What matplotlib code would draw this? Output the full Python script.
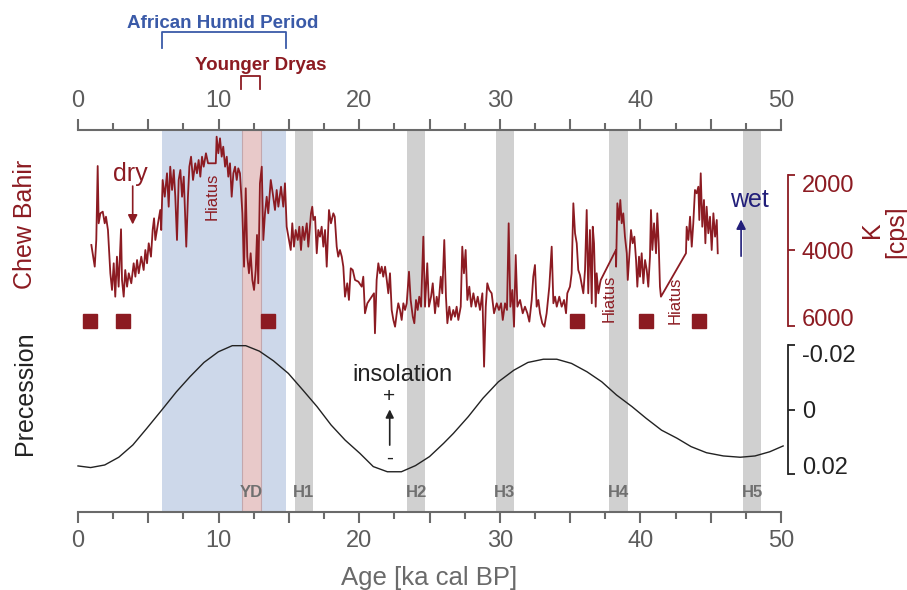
import matplotlib
matplotlib.use("Agg")
import matplotlib.pyplot as plt
import numpy as np

plt.rcParams['font.family'] = ['Liberation Sans', 'DejaVu Sans']

RED = '#8c1b22'
NAVY = '#221f7a'
BLUE_TXT = '#3a5aa8'
GREY = '#6a6a6a'

# Chew Bahir K record (age ka cal BP, K cps)
age_a = [0.95, 1.12, 1.19, 1.30, 1.40, 1.47, 1.59, 1.76, 1.90, 1.99, 2.13, 2.30, 2.42, 2.54, 2.65,
         2.77, 2.89, 3.06, 3.13, 3.25, 3.36, 3.49, 3.61, 3.79, 3.96, 4.08, 4.20, 4.32, 4.50, 4.67,
         4.79, 4.91, 5.03, 5.19, 5.31, 5.41, 5.50, 5.69, 5.85, 5.92, 6.02, 6.17, 6.33, 6.45, 6.56,
         6.69, 6.81, 6.92, 7.04, 7.16, 7.28, 7.40, 7.52, 7.70, 7.82, 7.92, 8.04, 8.18, 8.34, 8.46,
         8.58, 8.70, 8.82, 8.94, 9.10, 9.25]
k_a = [3854, 4252, 4429, 3722, 1762, 3280, 3015, 2972, 3280, 3105, 3457, 4604, 5046, 4339, 5224,
       4164, 4959, 3438, 4781, 5224, 4517, 4959, 4604, 4869, 4339, 4694, 4252, 4604, 4164, 4517,
       3987, 4339, 3809, 4164, 3457, 3147, 3722, 3280, 2927, 3457, 2132, 2575, 1955, 2840, 1780,
       2397, 1868, 2575, 3722, 2132, 1868, 2575, 2045, 3899, 2575, 1780, 1515, 2132, 1690, 1955,
       1603, 2045, 1515, 1780, 1425, 1690]

age_b = [9.80, 9.86, 9.98, 10.10, 10.22, 10.33, 10.46, 10.58, 10.69, 10.81, 10.93, 11.05, 11.17,
         11.29, 11.40, 11.52, 11.69, 11.81, 11.93, 12.04, 12.16, 12.28, 12.40, 12.52, 12.64, 12.73,
         12.82, 12.94, 13.07, 13.18, 13.30, 13.42, 13.53, 13.71, 13.85, 14.01, 14.13, 14.25, 14.44,
         14.60, 14.72, 14.84, 15.01, 15.13, 15.24, 15.36, 15.48, 15.63, 15.74, 15.86, 15.98, 16.10,
         16.27, 16.38, 16.57, 16.66, 16.74, 16.86, 16.98, 17.09, 17.21, 17.33, 17.45, 17.57, 17.69,
         17.85, 17.99, 18.16]
k_b = [1690, 985, 1425, 1028, 1515, 1250, 1780, 1515, 2045, 1690, 2575, 1955, 1780,
       2132, 1823, 1955, 3015, 4429, 2352, 4164, 4604, 4074, 4781, 5046, 4517, 3589,
       4869, 2220, 1780, 3722, 3015, 2575, 3015, 2132, 2485, 2927, 2397, 2840, 2310,
       2840, 2220, 3370, 3722, 3987, 3280, 3899, 3457, 3722, 3370, 3987, 3370, 3722,
       3280, 3899, 3015, 2840, 3192, 3105, 4074, 3457, 3634, 3370, 3899, 3457, 4429,
       2927, 3280, 3015]

age_c = [18.26, 18.40, 18.51, 18.63, 18.76, 18.87, 18.99, 19.15, 19.27, 19.40,
         19.54, 19.70, 19.94, 20.18, 20.29, 20.41, 20.58, 20.89, 21.05, 21.12,
         21.24, 21.36, 21.48, 21.60, 21.71, 21.84, 21.96, 22.07, 22.19, 22.31,
         22.43, 22.55, 22.67, 22.78, 22.90, 23.02, 23.14, 23.26, 23.38, 23.54,
         23.66, 23.81, 23.92, 24.04, 24.16, 24.27, 24.40, 24.56, 24.68, 24.84,
         24.96, 25.11, 25.23, 25.39, 25.51, 25.63, 25.80, 25.91, 26.05, 26.17,
         26.27, 26.41, 26.53, 26.69, 26.81, 26.93, 27.05, 27.22, 27.33, 27.45,
         27.57, 27.69, 27.83, 27.97, 28.12, 28.29, 28.43, 28.59, 28.76, 28.88,
         29.00, 29.11, 29.25, 29.42, 29.59, 29.78, 29.94, 30.09, 30.21, 30.37,
         30.51, 30.63, 30.75, 30.89, 31.01, 31.13, 31.25, 31.44, 31.63, 31.79,
         31.96, 32.10, 32.27, 32.38, 32.50, 32.62, 32.74, 32.86, 33.02, 33.17,
         33.33, 33.52, 33.69, 33.81, 33.93, 34.05, 34.23, 34.40, 34.57, 34.71,
         34.80, 34.99, 35.11, 35.23, 35.35, 35.47, 35.58]
k_c = [3105, 3899, 4164, 3987, 4164, 4429, 5224, 4869, 5311, 4472,
       4517, 4781, 4826, 4959, 4694, 5664, 5399, 5224, 5134, 6193,
       4781, 4339, 4604, 4429, 4694, 4429, 4781, 5134, 4604, 5576,
       5841, 6019, 5664, 5399, 5576, 5841, 5399, 5576, 5399, 4562,
       5311, 5754, 5928, 5311, 5576, 5224, 5489, 3634, 5489, 4339,
       5489, 5224, 4869, 5664, 5224, 5489, 4694, 5134, 3722, 5224,
       5928, 5489, 5841, 5576, 5754, 5489, 5841, 5489, 3899, 4604,
       3987, 5311, 4959, 5489, 5134, 5489, 5224, 5576, 5134, 7078,
       5489, 4869, 5046, 5134, 5664, 5399, 5576, 5399, 5841, 5399,
       5576, 3280, 5489, 5046, 6019, 4119, 5489, 5311, 5664, 5489,
       5664, 5886, 5311, 4694, 4384, 5489, 5311, 5664, 5928, 6019,
       5664, 4959, 3899, 5399, 5224, 5489, 5224, 5489, 5311, 5664,
       5134, 4959, 4604, 2750, 3544, 3809, 4517]

age_d = [35.70, 35.94, 36.06, 36.18, 36.29, 36.41, 36.54, 36.61, 36.70, 36.82,
         36.89, 37.01, 37.13, 37.18, 38.26, 38.27, 38.36, 38.48, 38.57, 38.67,
         38.78, 38.90, 39.03, 39.10, 39.21, 39.33, 39.45, 39.57, 39.69, 39.78,
         39.90, 39.97, 40.09, 40.21, 40.33, 40.45, 40.56, 40.68, 40.75, 40.85,
         40.97, 41.11, 41.20, 41.30, 41.39, 41.46, 43.24, 43.29, 43.41, 43.53,
         43.65, 43.76, 43.88, 44.00, 44.12, 44.19, 44.29, 44.40, 44.52, 44.62,
         44.71, 44.83, 44.95, 45.07, 45.19, 45.31, 45.43, 45.50]
k_d = [4649, 5134, 4517, 2927, 5134, 3457, 5399, 3370, 3809, 5489,
       4604, 5134, 4869, 4781, 3987, 4429, 2750, 3192, 2662, 3280,
       3015, 3634, 4074, 4781, 4164, 3457, 3809, 3634, 4252, 4959,
       4164, 4694, 4074, 4869, 4252, 4517, 4959, 4164, 2927, 3987,
       3280, 4074, 3015, 3809, 4959, 5224, 4074, 3370, 3722, 3105,
       3899, 3280, 2397, 2485, 2310, 3192, 1955, 3370, 2662, 3809,
       2840, 3544, 3105, 3987, 3015, 3634, 3192, 4074]

age_k = age_a + age_b + age_c + age_d
k_cps = k_a + k_b + k_c + k_d

# dated samples (red squares)
sample_age = [0.85, 3.18, 13.49, 35.49, 40.38, 44.17]
sample_k = [5880, 5880, 5880, 5880, 5880, 5880]

# precession index
prec_age = [0.0, 0.9, 1.9, 2.9, 3.9, 4.9, 5.95, 7.0, 7.97, 8.96, 9.98, 10.97, 11.93, 12.9, 13.9,
            14.96, 16.0, 17.0, 18.0, 19.0, 20.05, 21.0, 22.0, 23.0, 24.0, 25.0, 26.0, 26.7, 27.76,
            28.8, 29.9, 31.0, 32.0, 33.1, 34.05, 35.1, 36.2, 37.25, 38.3, 39.4, 40.4, 41.5, 42.6,
            43.6, 44.7, 45.9, 47.1, 48.15, 49.2, 50.15]
prec_val = [0.0175, 0.0180, 0.0172, 0.0148, 0.0110, 0.0058, 0.0002, -0.0055, -0.0102, -0.0146,
            -0.0179, -0.0198, -0.0198, -0.0181, -0.0151, -0.0112, -0.0060, -0.0009, 0.0048, 0.0095,
            0.0136, 0.0177, 0.0193, 0.0193, 0.0174, 0.0146, 0.0105, 0.0074, 0.0022, -0.0035,
            -0.0086, -0.0122, -0.0146, -0.0156, -0.0156, -0.0143, -0.0117, -0.0086, -0.0045, -0.0009,
            0.0027, 0.0064, 0.0089, 0.0115, 0.0134, 0.0144, 0.0148, 0.0144, 0.0131, 0.0113]

ahp = (5.95, 14.8)
yd = (11.65, 13.0)
h_names = ['H1', 'H2', 'H3', 'H4', 'H5']
h_start = [15.4, 23.4, 29.7, 37.8, 47.3]
h_end = [16.7, 24.7, 31.0, 39.1, 48.6]

hiatus_age = [9.53, 37.77, 42.46]
hiatus_k = [2556, 5258, 5311]

fig = plt.figure(figsize=(9.07, 5.90), dpi=100)

# main axes: bands + age axes
ax = fig.add_axes([0.0860, 0.1317, 0.7751, 0.6480])
ax.set_xlim(0, 50)
ax.set_ylim(0, 1)
ax.set_yticks([])
for s in ['left', 'right']:
    ax.spines[s].set_visible(False)
for s in ['top', 'bottom']:
    ax.spines[s].set_color(GREY)
    ax.spines[s].set_linewidth(1.5)

ax.set_xticks(np.arange(0, 51, 5))
ax.set_xticklabels([str(v) if v % 10 == 0 else '' for v in range(0, 51, 5)])
ax.set_xticks(np.arange(2.5, 50, 5), minor=True)
ax.tick_params(axis='x', which='both', top=True, labeltop=True, direction='out',
               color=GREY, width=1.5, labelsize=17, labelcolor='#5c5c5c', pad=5)
ax.tick_params(axis='x', which='major', length=8)
ax.tick_params(axis='x', which='minor', length=5)
ax.set_xlabel('Age [ka cal BP]', fontsize=18.5, color=GREY, labelpad=10)

ax.axvspan(ahp[0], ahp[1], facecolor='#cdd8ea', lw=0, zorder=0)
ax.axvspan(yd[0], yd[1], facecolor='#e8c9c9', edgecolor='#c3a7ad', lw=0.8, zorder=1)
for name, s, e in zip(h_names, h_start, h_end):
    ax.axvspan(s, e, facecolor='#d0d0d0', lw=0, zorder=0)
    ax.text((s + e) / 2, 0.053, name, transform=ax.get_xaxis_transform(), ha='center',
            va='center', fontsize=12, fontweight='bold', color='#707070')
ax.text(sum(yd) / 2, 0.053, 'YD', transform=ax.get_xaxis_transform(), ha='center',
        va='center', fontsize=12, fontweight='bold', color='#707070')

# brackets above the top axis
tr = ax.get_xaxis_transform()
ax.plot([ahp[0], ahp[0], ahp[1], ahp[1]], [1.215, 1.257, 1.257, 1.215], transform=tr,
        clip_on=False, color=BLUE_TXT, lw=1.3)
ax.text(sum(ahp) / 2 - 0.1, 1.266, 'African Humid Period', transform=tr, ha='center',
        va='baseline', fontsize=13.5, fontweight='bold', color=BLUE_TXT)
ax.plot([11.6, 11.6, 12.95, 12.95], [1.106, 1.140, 1.140, 1.106], transform=tr,
        clip_on=False, color=RED, lw=1.3)
ax.text(13.0, 1.156, 'Younger Dryas', transform=tr, ha='center', va='baseline',
        fontsize=13.5, fontweight='bold', color=RED)

# K record axes
axk = fig.add_axes([0.0860, 0.4475, 0.7751, 0.2559])
axk.patch.set_alpha(0)
axk.set_xlim(0, 50)
axk.set_ylim(6000, 2000)
axk.xaxis.set_visible(False)
for s in ['left', 'top', 'bottom']:
    axk.spines[s].set_visible(False)
axk.spines['right'].set_position(('outward', 5))
axk.spines['right'].set_color(RED)
axk.spines['right'].set_linewidth(1.3)
axk.yaxis.tick_right()
axk.set_yticks([2000, 4000, 6000])
axk.tick_params(axis='y', colors=RED, length=5, width=1.3, labelsize=17, pad=5)
lbl = axk.get_yticklabels()
lbl[0].set_va('top')
lbl[-1].set_va('baseline')
axk.plot(age_k, k_cps, color=RED, lw=1.3, clip_on=False)
axk.plot(sample_age, sample_k, 's', color=RED, ms=10, clip_on=False)

axk.text(3.72, 1975, 'dry', color=RED, fontsize=18, ha='center', va='center')
axk.annotate('', xy=(3.89, 3385), xytext=(3.89, 2220),
             arrowprops=dict(arrowstyle='-|>', color=RED, lw=1.2, mutation_scale=14))
axk.text(47.76, 2662, 'wet', color=NAVY, fontsize=18, ha='center', va='center')
axk.annotate('', xy=(47.16, 3105), xytext=(47.16, 4225),
             arrowprops=dict(arrowstyle='-|>', color=NAVY, lw=1.2, mutation_scale=14))
for a, k in zip(hiatus_age, hiatus_k):
    axk.text(a, k, 'Hiatus', rotation=90, color=RED, fontsize=12, ha='center', va='center')

# precession axes
axp = fig.add_axes([0.0860, 0.1966, 0.7751, 0.2186])
axp.patch.set_alpha(0)
axp.set_xlim(0, 50)
axp.set_ylim(0.02, -0.02)
axp.xaxis.set_visible(False)
for s in ['left', 'top', 'bottom']:
    axp.spines[s].set_visible(False)
axp.spines['right'].set_position(('outward', 5))
axp.spines['right'].set_color('#222222')
axp.spines['right'].set_linewidth(1.3)
axp.yaxis.tick_right()
axp.set_yticks([-0.02, 0, 0.02])
axp.set_yticklabels(['-0.02', '0', '0.02'])
axp.tick_params(axis='y', colors='#222222', length=5, width=1.3, labelsize=17, pad=5)
lbl = axp.get_yticklabels()
lbl[0].set_va('top')
lbl[-1].set_va('baseline')
axp.plot(prec_age, prec_val, color='#222222', lw=1.0, clip_on=False)

axp.text(23.08, -0.0107, 'insolation', fontsize=17, ha='center', va='center', color='#222222')
axp.text(22.14, -0.0040, '+', fontsize=15, ha='center', va='center', color='#222222')
axp.text(22.14, 0.0150, '-', fontsize=15, ha='center', va='center', color='#222222')
axp.annotate('', xy=(22.17, -0.0009), xytext=(22.17, 0.0119),
             arrowprops=dict(arrowstyle='-|>', color='#222222', lw=1.2, mutation_scale=12))

# side labels
fig.text(0.0276, 0.619, 'Chew Bahir', rotation=90, color=RED, fontsize=18, ha='center', va='center')
fig.text(0.0276, 0.334, 'Precession', rotation=90, color='#222222', fontsize=18, ha='center', va='center')
fig.text(0.961, 0.610, 'K', rotation=90, color=RED, fontsize=18, ha='center', va='center')
fig.text(0.9886, 0.607, '[cps]', rotation=90, color=RED, fontsize=18, ha='center', va='center')

fig.savefig('out.png', dpi=100)
